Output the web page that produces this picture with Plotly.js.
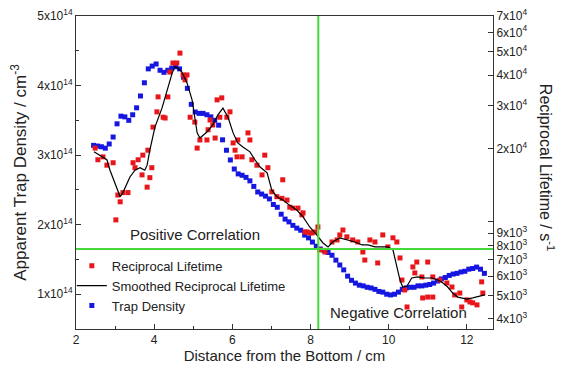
<!DOCTYPE html>
<html>
<head>
<meta charset="utf-8">
<script src="https://cdn.plot.ly/plotly-3.0.1.min.js"></script>
<style>html,body{margin:0;padding:0;background:#fff;}#chart{width:562px;height:369px;}</style>
</head>
<body>
<div id="chart"></div>
<script>
// Trap density (left axis, cm^-3)
var trapX = [2.45,2.55,2.65,2.75,2.85,2.95,3.05,3.15,3.25,3.35,3.45,3.55,3.65,3.75,3.85,3.95,4.05,4.15,4.25,4.35,4.45,4.55,4.65,4.75,4.85,4.95,5.05,5.15,5.25,5.35,5.45,5.55,5.65,5.75,5.85,5.95,6.05,6.15,6.25,6.35,6.45,6.55,6.65,6.75,6.85,6.95,7.05,7.15,7.25,7.35,7.45,7.55,7.65,7.75,7.85,7.95,8.05,8.15,8.25,8.35,8.45,8.55,8.65,8.75,8.85,8.95,9.05,9.15,9.25,9.35,9.45,9.55,9.65,9.75,9.85,9.95,10.05,10.15,10.25,10.35,10.45,10.55,10.65,10.75,10.85,10.95,11.05,11.15,11.25,11.35,11.45,11.55,11.65,11.75,11.85,11.95,12.05,12.15,12.25,12.35,12.45];
var trapY = [3.14e14,3.13e14,3.12e14,3.10e14,3.16e14,3.26e14,3.45e14,3.56e14,3.55e14,3.50e14,3.58e14,3.68e14,3.85e14,4.04e14,4.24e14,4.28e14,4.31e14,4.22e14,4.19e14,4.22e14,4.25e14,4.27e14,4.24e14,4.12e14,3.96e14,3.73e14,3.62e14,3.60e14,3.60e14,3.58e14,3.55e14,3.50e14,3.43e14,3.22e14,3.07e14,2.93e14,2.80e14,2.73e14,2.71e14,2.68e14,2.63e14,2.55e14,2.47e14,2.44e14,2.41e14,2.37e14,2.29e14,2.25e14,2.15e14,2.08e14,2.04e14,1.99e14,1.95e14,1.92e14,1.85e14,1.81e14,1.75e14,1.69e14,1.65e14,1.63e14,1.60e14,1.56e14,1.49e14,1.42e14,1.35e14,1.26e14,1.20e14,1.16e14,1.13e14,1.12e14,1.10e14,1.09e14,1.07e14,1.04e14,1.03e14,1.00e14,0.99e14,1.00e14,1.03e14,1.07e14,1.09e14,1.10e14,1.10e14,1.12e14,1.12e14,1.13e14,1.14e14,1.16e14,1.19e14,1.22e14,1.24e14,1.27e14,1.29e14,1.30e14,1.32e14,1.33e14,1.36e14,1.37e14,1.39e14,1.36e14,1.30e14];

// Reciprocal lifetime (right axis, s^-1)
var recipX = [2.49,2.56,2.69,2.79,2.95,3.02,3.07,3.13,3.20,3.33,3.46,3.51,3.59,3.69,3.71,3.82,3.84,3.89,3.94,3.97,4.07,4.10,4.23,4.28,4.35,4.40,4.48,4.58,4.66,4.74,4.79,4.84,4.92,5.04,5.10,5.17,5.35,5.38,5.43,5.50,5.56,5.61,5.68,5.73,5.86,5.94,6.02,6.07,6.12,6.14,6.25,6.40,6.45,6.50,6.63,6.76,6.83,6.91,7.01,7.14,7.27,7.29,7.40,7.47,7.55,7.68,7.78,7.81,7.86,7.91,7.99,8.04,8.11,8.19,8.24,8.37,8.55,8.68,8.75,8.83,8.93,9.08,9.21,9.34,9.39,9.52,9.65,9.72,9.85,9.98,10.11,10.21,10.29,10.34,10.41,10.47,10.62,10.67,10.72,10.85,10.87,11.00,11.00,11.13,11.13,11.31,11.49,11.62,11.69,11.82,11.87,12.00,12.08,12.15,12.26,12.38,12.41];
var recipY = [20100,18000,18500,17100,17500,10200,12900,12100,13200,13200,17500,16700,18000,15600,18800,13900,19700,15200,16700,24500,28300,32600,26900,26700,32600,41200,44900,44900,49300,40100,38300,40100,26900,25700,20100,21700,21700,23900,26200,25000,22100,31700,26900,32300,26900,28300,21100,19700,18500,21700,18500,23200,21700,18000,17100,15600,18800,16700,13300,12700,12500,14900,12300,11500,11400,11400,10700,10900,9100,9100,9020,9020,9100,9540,7680,7530,8280,8440,8850,9270,8690,8440,8280,7530,6980,8440,8280,6790,8850,7900,8610,8280,7120,5780,5260,4480,6540,6180,6850,5950,4880,6850,4920,4920,5950,5780,5620,5410,5020,5110,4480,4790,4700,4660,4570,5680,5110];

// Smoothed reciprocal lifetime (right axis)
var smoothX = [2.46,2.61,2.79,2.87,3.00,3.13,3.20,3.38,3.51,3.64,3.76,3.82,3.89,4.02,4.20,4.33,4.46,4.53,4.61,4.71,4.84,4.97,5.10,5.17,5.35,5.50,5.63,5.76,5.89,6.02,6.14,6.27,6.45,6.58,6.71,6.89,7.01,7.14,7.29,7.47,7.65,7.81,7.98,8.16,8.32,8.45,8.57,8.75,8.93,9.14,9.32,9.47,9.65,9.83,9.98,10.11,10.21,10.29,10.36,10.47,10.59,10.75,10.93,11.10,11.26,11.39,11.51,11.64,11.77,12.00,12.15,12.33,12.46];
var smoothY = [19400,18800,18000,16300,14450,12700,13200,15300,16300,16700,16300,17100,19700,24500,29300,34800,40800,43300,42800,41200,37200,31700,23200,22100,23400,25000,27500,29300,26900,23200,21100,20300,19400,18000,16800,15900,13500,12700,12300,11700,11200,10500,9540,8850,8200,7900,8280,8610,8440,8280,8050,8050,7900,7900,7900,7680,6540,5780,5410,5460,5890,5950,5890,5890,5780,5620,5410,5110,4920,4830,4880,4980,5020];

// Tick labels
var leftTickVals = [1e14,2e14,3e14,4e14,5e14];
var leftTickText = ['1x10<sup>14</sup>','2x10<sup>14</sup>','3x10<sup>14</sup>','4x10<sup>14</sup>','5x10<sup>14</sup>'];
var rightTickVals = [4000,5000,6000,7000,8000,9000,10000,20000,30000,40000,50000,60000,70000];
var rightTickText = ['4x10<sup>3</sup>','5x10<sup>3</sup>','6x10<sup>3</sup>','7x10<sup>3</sup>','8x10<sup>3</sup>','9x10<sup>3</sup>','','2x10<sup>4</sup>','3x10<sup>4</sup>','4x10<sup>4</sup>','5x10<sup>4</sup>','6x10<sup>4</sup>','7x10<sup>4</sup>'];

// Marker lines
var crossX = 8.2;
var crossY = 1.65e14;

var red = 'rgb(232,22,26)';
var blue = 'rgb(22,22,225)';
var green = 'rgb(70,215,60)';
var axisColor = '#333';

var traces = [
  {x: trapX, y: trapY, type:'scatter', mode:'markers', name:'Trap Density', yaxis:'y',
   marker:{symbol:'square', size:5, color:blue}, legendrank:3},
  {x: recipX, y: recipY, type:'scatter', mode:'markers', name:'Reciprocal Lifetime', yaxis:'y2',
   marker:{symbol:'square', size:5, color:red}, legendrank:1},
  {x: smoothX, y: smoothY, type:'scatter', mode:'lines', name:'Smoothed Reciprocal Lifetime', yaxis:'y2',
   line:{color:'#000', width:1.2}, legendrank:2}
];

var layout = {
  width:562, height:369,
  margin:{l:76, r:69, t:16, b:40},
  paper_bgcolor:'#fff', plot_bgcolor:'#fff',
  font:{family:'Liberation Sans, Arial, sans-serif', color:'#222', size:12},
  showlegend:true,
  legend:{x:-0.01, y:0.25, xanchor:'left', yanchor:'top', bgcolor:'rgba(0,0,0,0)',
          font:{size:13}, tracegroupgap:0, itemwidth:30},
  xaxis:{range:[2,12.67], tickmode:'linear', tick0:2, dtick:2, ticks:'inside', ticklen:5, tickwidth:1,
         tickcolor:axisColor, showline:true, linecolor:axisColor, linewidth:1, mirror:true,
         showgrid:false, zeroline:false, tickfont:{size:12},
         minor:{dtick:1, tick0:2, ticks:'inside', ticklen:3, tickcolor:axisColor, showgrid:false},
         title:{text:'Distance from the Bottom / cm', font:{size:15}, standoff:3}},
  yaxis:{range:[0.5e14,5e14], tickmode:'array', tickvals:leftTickVals, ticktext:leftTickText,
         ticks:'inside', ticklen:5, tickcolor:axisColor, showline:true, linecolor:axisColor, linewidth:1,
         showgrid:false, zeroline:false, tickfont:{size:12},
         minor:{tickmode:'array', tickvals:[1.5e14,2.5e14,3.5e14,4.5e14], ticks:'inside', ticklen:3, tickcolor:axisColor, showgrid:false},
         title:{text:'Apparent Trap Density / cm<sup>-3</sup>', font:{size:17}, standoff:6}},
  yaxis2:{type:'log', range:[3.561,4.845], overlaying:'y', side:'right', tickmode:'array',
          tickvals:rightTickVals, ticktext:rightTickText, ticks:'inside', ticklen:5, tickcolor:axisColor,
          showline:true, linecolor:axisColor, linewidth:1, showgrid:false, zeroline:false, tickfont:{size:12}},
  shapes:[
    {type:'line', xref:'x', yref:'paper', x0:crossX, x1:crossX, y0:0, y1:1, line:{color:green, width:2}},
    {type:'line', xref:'paper', yref:'y', x0:0, x1:1, y0:crossY, y1:crossY, line:{color:green, width:2}}
  ],
  annotations:[
    {text:'Positive Correlation', xref:'x', yref:'y', x:5.04, y:1.863e14, showarrow:false, font:{size:15, color:'#222'}},
    {text:'Negative Correlation', xref:'x', yref:'y', x:10.24, y:0.741e14, showarrow:false, font:{size:15, color:'#222'}},
    {text:'Reciprocal Lifetime / s<sup>-1</sup>', xref:'paper', yref:'paper', x:1.1295, y:0.518,
     xanchor:'center', yanchor:'middle', textangle:90, showarrow:false, font:{size:16, color:'#222'}}
  ]
};

Plotly.newPlot('chart', traces, layout, {displayModeBar:false, staticPlot:true});
</script>
</body>
</html>
